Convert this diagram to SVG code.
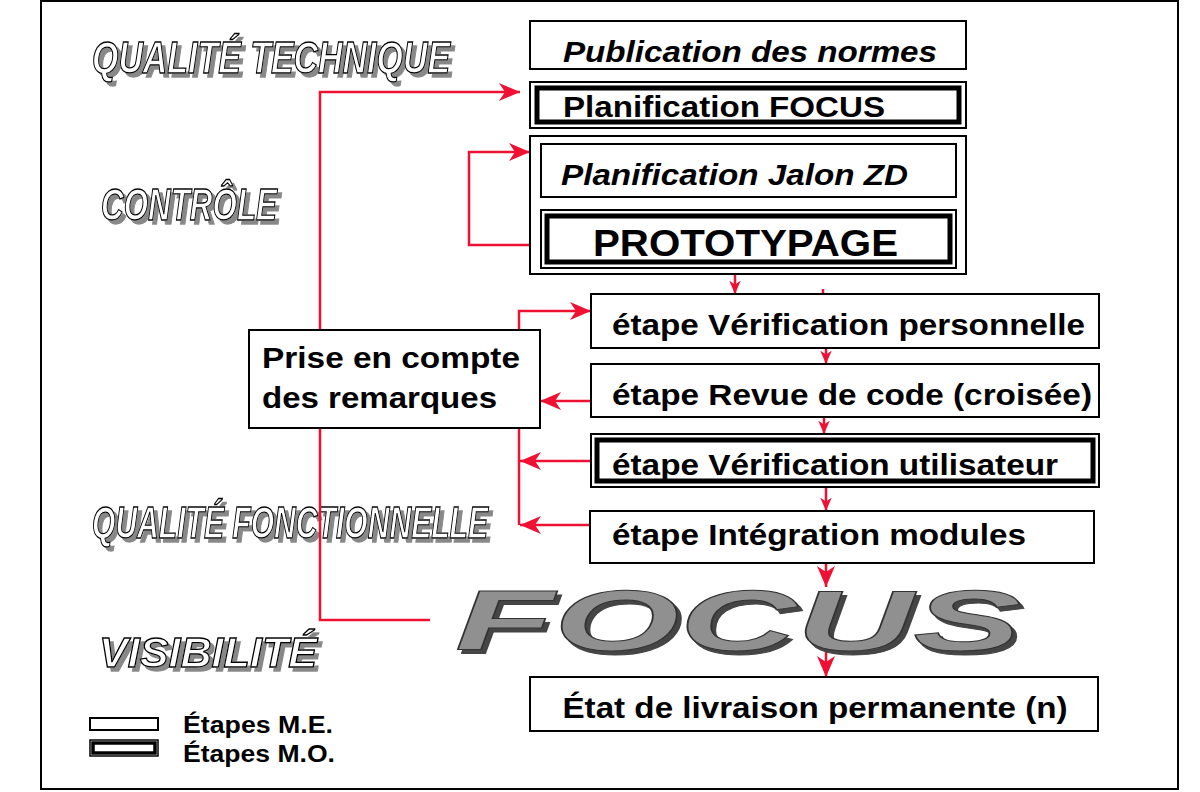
<svg xmlns="http://www.w3.org/2000/svg" width="1200" height="792" viewBox="0 0 1200 792">
<defs>
<marker id="ar" markerUnits="userSpaceOnUse" markerWidth="22" markerHeight="20" viewBox="0 0 22 20" refX="21" refY="10" orient="auto">
<path d="M0,1 L21,10 L0,19 L6,10 z" fill="#ee1133"/>
</marker>
<marker id="ars" markerUnits="userSpaceOnUse" markerWidth="14" markerHeight="14" viewBox="0 0 22 20" refX="21" refY="10" orient="auto">
<path d="M0,1 L21,10 L0,19 L6,10 z" fill="#ee1133"/>
</marker>
<filter id="sh" x="-5%" y="-20%" width="115%" height="150%">
<feOffset in="SourceAlpha" dx="4" dy="4" result="o"/>
<feFlood flood-color="#888"/>
<feComposite in2="o" operator="in" result="s"/>
<feMerge><feMergeNode in="s"/><feMergeNode in="SourceGraphic"/></feMerge>
</filter>
<filter id="sh2" x="-5%" y="-20%" width="115%" height="150%">
<feOffset in="SourceAlpha" dx="4" dy="4" result="o"/>
<feFlood flood-color="#444"/>
<feComposite in2="o" operator="in" result="s"/>
<feMerge><feMergeNode in="s"/><feMergeNode in="SourceGraphic"/></feMerge>
</filter>
</defs>
<style>
.thin{fill:#fff;stroke:#000;stroke-width:2}
.thick{fill:none;stroke:#000;stroke-width:5}
.c{fill:none;stroke:#ee1133;stroke-width:2.5}
.t{font-family:"Liberation Sans",Arial,sans-serif;font-weight:bold;fill:#000}
.h{font-family:"Liberation Sans",Arial,sans-serif;font-weight:bold;font-style:italic;fill:#fff;stroke:#000;stroke-width:1.3;filter:url(#sh)}
</style>
<rect x="0" y="0" width="1200" height="792" fill="#fff"/>
<rect x="41" y="1" width="1137" height="788" fill="none" stroke="#000" stroke-width="2"/>

<g id="headings">
<text class="h" x="92" y="73" font-size="44" textLength="358" lengthAdjust="spacingAndGlyphs">QUALITÉ TECHNIQUE</text>
<text class="h" x="101" y="220" font-size="44" textLength="176" lengthAdjust="spacingAndGlyphs">CONTRÔLE</text>
<text class="h" x="92" y="538" font-size="44" textLength="396" lengthAdjust="spacingAndGlyphs">QUALITÉ FONCTIONNELLE</text>
<text class="h" x="99" y="667" font-size="42" textLength="218" lengthAdjust="spacingAndGlyphs">VISIBILITÉ</text>
</g>

<g id="connectors">
<polyline class="c" points="430,620 320,620 320,92 520,92" marker-end="url(#ar)"/>
<polyline class="c" points="530,245 469,245 469,152 530,152" marker-end="url(#ar)"/>
<line class="c" x1="735" y1="274" x2="735" y2="294" marker-end="url(#ars)"/>
<line class="c" x1="823" y1="289" x2="823" y2="294"/>
<polyline class="c" points="519,525 519,311 591,311" marker-end="url(#ar)"/>
<line class="c" x1="591" y1="401" x2="540" y2="401" marker-end="url(#ar)"/>
<line class="c" x1="591" y1="461" x2="520" y2="461" marker-end="url(#ar)"/>
<line class="c" x1="590" y1="525" x2="520" y2="525" marker-end="url(#ar)"/>
<line class="c" x1="826" y1="348" x2="826" y2="364" marker-end="url(#ars)"/>
<line class="c" x1="824" y1="417" x2="824" y2="434" marker-end="url(#ars)"/>
<line class="c" x1="826" y1="487" x2="826" y2="511" marker-end="url(#ars)"/>
<line class="c" x1="826" y1="563" x2="826" y2="587" marker-end="url(#ar)"/>
<line class="c" x1="826" y1="648" x2="826" y2="677" marker-end="url(#ar)"/>
</g>

<g id="n-publication">
<rect class="thin" x="530" y="21" width="436" height="48"/>
<text class="t" x="563" y="62" font-size="29" font-style="italic" textLength="374" lengthAdjust="spacingAndGlyphs">Publication des normes</text>
</g>
<g id="n-planif-focus">
<rect class="thin" x="530" y="82" width="436" height="46"/>
<rect class="thick" x="537" y="88" width="422" height="34"/>
<text class="t" x="563" y="117" font-size="29" textLength="322" lengthAdjust="spacingAndGlyphs">Planification FOCUS</text>
</g>
<g id="n-controle-group">
<rect class="thin" x="530" y="136" width="436" height="138"/>
</g>
<g id="n-jalon">
<rect class="thin" x="541" y="144" width="415" height="53"/>
<text class="t" x="561" y="185" font-size="29" font-style="italic" textLength="347" lengthAdjust="spacingAndGlyphs">Planification Jalon ZD</text>
</g>
<g id="n-prototypage">
<rect class="thin" x="541" y="210" width="415" height="58"/>
<rect class="thick" x="547" y="216" width="403" height="46"/>
<text class="t" x="593" y="256" font-size="37" textLength="305" lengthAdjust="spacingAndGlyphs">PROTOTYPAGE</text>
</g>
<g id="n-verif-perso">
<rect class="thin" x="591" y="294" width="508" height="54"/>
<text class="t" x="612" y="335" font-size="30" textLength="473" lengthAdjust="spacingAndGlyphs">étape Vérification personnelle</text>
</g>
<g id="n-revue">
<rect class="thin" x="591" y="364" width="508" height="53"/>
<text class="t" x="612" y="405" font-size="30" textLength="480" lengthAdjust="spacingAndGlyphs">étape Revue de code (croisée)</text>
</g>
<g id="n-verif-util">
<rect class="thin" x="591" y="434" width="508" height="53"/>
<rect class="thick" x="597" y="440" width="496" height="41"/>
<text class="t" x="612" y="475" font-size="30" textLength="446" lengthAdjust="spacingAndGlyphs">étape Vérification utilisateur</text>
</g>
<g id="n-integration">
<rect class="thin" x="590" y="511" width="504" height="52"/>
<text class="t" x="612" y="545" font-size="30" textLength="414" lengthAdjust="spacingAndGlyphs">étape Intégration modules</text>
</g>
<g id="n-prise">
<rect class="thin" x="249" y="330" width="291" height="98"/>
<text class="t" x="262" y="368" font-size="29" textLength="258" lengthAdjust="spacingAndGlyphs">Prise en compte</text>
<text class="t" x="262" y="408" font-size="29" textLength="235" lengthAdjust="spacingAndGlyphs">des remarques</text>
</g>
<g id="n-focus">
<text x="455" y="650" font-family="'Liberation Sans',Arial,sans-serif" font-weight="bold" font-style="italic" font-size="86" fill="#909090" stroke="#333" stroke-width="1" filter="url(#sh2)" textLength="566" lengthAdjust="spacingAndGlyphs">FOCUS</text>
</g>
<g id="n-etat">
<rect class="thin" x="530" y="677" width="568" height="54"/>
<text class="t" x="815" y="718" font-size="30" text-anchor="middle" textLength="505" lengthAdjust="spacingAndGlyphs">État de livraison permanente (n)</text>
</g>
<g id="legend">
<rect class="thin" x="90" y="718" width="68" height="12"/>
<rect x="90" y="740" width="68" height="16" fill="#fff" stroke="#000" stroke-width="1.5"/>
<rect x="93" y="743" width="62" height="10" fill="none" stroke="#000" stroke-width="3.5"/>
<text class="t" x="183" y="733" font-size="23" textLength="150" lengthAdjust="spacingAndGlyphs">Étapes M.E.</text>
<text class="t" x="183" y="762" font-size="23" textLength="152" lengthAdjust="spacingAndGlyphs">Étapes M.O.</text>
</g>
</svg>
